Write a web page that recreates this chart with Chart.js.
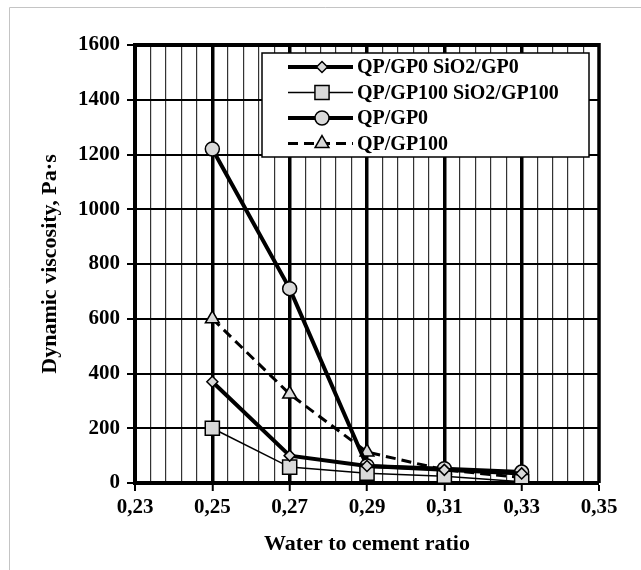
<!DOCTYPE html>
<html>
<head>
<meta charset="utf-8">
<script src="https://cdn.jsdelivr.net/npm/chart.js@4.4.1/dist/chart.umd.min.js"></script>
<style>
  html, body { margin: 0; padding: 0; background: #fff; }
  #wrap { width: 641px; height: 570px; position: relative; }
</style>
</head>
<body>
<div id="wrap"><canvas id="viscosityChart" width="641" height="570"></canvas></div>
<script>
// water to cement ratio (x) and dynamic viscosity, Pa·s (y)
const ratios = [0.25, 0.27, 0.29, 0.31, 0.33];
const sio2Gp0 = [370, 100, 62, 48, 35];
const sio2Gp100 = [200, 58, 36, 25, 5];
const qpGp0 = [1220, 710, 62, 52, 40];
const qpGp100 = [600, 325, 113, 48, 20];

const seriesNames = ['QP/GP0 SiO2/GP0', 'QP/GP100 SiO2/GP100', 'QP/GP0', 'QP/GP100'];
const xLabelTicks = [0.23, 0.25, 0.27, 0.29, 0.31, 0.33, 0.35];
const yLabelTicks = [0, 200, 400, 600, 800, 1000, 1200, 1400, 1600];

const FONT = 'Liberation Serif, Times New Roman, serif';
const MARKER_FILL = '#d9d9d9';

function isMajorX(v) {
    return xLabelTicks.some(t => Math.abs(t - v) < 1e-6);
}
function isDataX(v) {
    return ratios.some(t => Math.abs(t - v) < 1e-6);
}
function toPoints(values) {
    return ratios.map((r, i) => ({ x: r, y: values[i] }));
}

// frame: top and right edges of the plot, plus the light outer border
const framePlugin = {
    id: 'frame',
    beforeDatasetsDraw(chart) {
        const { ctx, chartArea: a } = chart;
        ctx.save();
        ctx.strokeStyle = '#000';
        ctx.lineWidth = 4;
        ctx.beginPath();
        ctx.moveTo(a.left, a.top);
        ctx.lineTo(a.right, a.top);
        ctx.stroke();
        ctx.lineWidth = 3.5;
        ctx.beginPath();
        ctx.moveTo(a.right, a.top - 2);
        ctx.lineTo(a.right, a.bottom);
        ctx.stroke();
        ctx.restore();
    },
    afterDraw(chart) {
        const ctx = chart.ctx;
        ctx.save();
        ctx.strokeStyle = '#c4c4c4';
        ctx.lineWidth = 1;
        ctx.beginPath();
        ctx.moveTo(9.5, chart.height);
        ctx.lineTo(9.5, 7.5);
        ctx.lineTo(chart.width, 7.5);
        ctx.stroke();
        ctx.restore();
    }
};

// legend box inside the plot area
const boxLegendPlugin = {
    id: 'boxLegend',
    afterDatasetsDraw(chart) {
        const { ctx, chartArea: a } = chart;
        const left = a.left + 127, top = a.top + 8;
        const right = a.right - 10, bottom = a.top + 112;
        ctx.save();
        ctx.fillStyle = '#fff';
        ctx.fillRect(left, top, right - left, bottom - top);
        ctx.strokeStyle = '#000';
        ctx.lineWidth = 1.5;
        ctx.strokeRect(left, top, right - left, bottom - top);

        chart.data.datasets.forEach((ds, i) => {
            const y = top + 14 + i * 25.5;
            const x0 = left + 26, x1 = left + 91, xm = left + 60;
            ctx.strokeStyle = ds.borderColor;
            ctx.lineWidth = ds.borderWidth;
            ctx.setLineDash(ds.borderDash || []);
            ctx.beginPath();
            ctx.moveTo(x0, y);
            ctx.lineTo(x1, y);
            ctx.stroke();
            ctx.setLineDash([]);
            ctx.fillStyle = ds.pointBackgroundColor;
            ctx.strokeStyle = ds.pointBorderColor;
            ctx.lineWidth = ds.pointBorderWidth;
            Chart.helpers.drawPoint(ctx, {
                pointStyle: ds.pointStyle,
                radius: ds.pointRadius,
                rotation: 0,
                borderWidth: ds.pointBorderWidth
            }, xm, y);
            ctx.fillStyle = '#000';
            ctx.font = 'bold 20px ' + FONT;
            ctx.textBaseline = 'middle';
            ctx.textAlign = 'left';
            ctx.fillText(ds.label, left + 95, y + 1);
        });
        ctx.restore();
    }
};

function series(label, values, style) {
    return Object.assign({
        label: label,
        data: toPoints(values),
        borderColor: '#000',
        pointBackgroundColor: MARKER_FILL,
        pointBorderColor: '#000',
        pointBorderWidth: 1.5,
        fill: false,
        tension: 0
    }, style);
}

new Chart(document.getElementById('viscosityChart'), {
    type: 'line',
    data: {
        datasets: [
            series(seriesNames[0], sio2Gp0, { borderWidth: 4, pointStyle: 'rectRot', pointRadius: 5.5 }),
            series(seriesNames[1], sio2Gp100, { borderWidth: 1.5, pointStyle: 'rect', pointRadius: 10 }),
            series(seriesNames[2], qpGp0, { borderWidth: 4, pointStyle: 'circle', pointRadius: 7 }),
            series(seriesNames[3], qpGp100, { borderWidth: 3, borderDash: [10, 6], pointStyle: 'triangle', pointRadius: 8 })
        ]
    },
    options: {
        responsive: false,
        animation: false,
        devicePixelRatio: 1,
        layout: { padding: { left: 0, top: 45, right: 42, bottom: 0 } },
        plugins: {
            legend: { display: false },
            tooltip: { enabled: false }
        },
        scales: {
            x: {
                type: 'linear',
                min: 0.23,
                max: 0.35,
                afterFit: function (scale) { scale.height = 87; },
                afterBuildTicks: function (scale) {
                    const ticks = [];
                    for (let i = 0; i <= 30; i++) {
                        ticks.push({ value: Math.round((0.23 + i * 0.004) * 1000) / 1000 });
                    }
                    scale.ticks = ticks;
                },
                ticks: {
                    autoSkip: false,
                    maxRotation: 0,
                    padding: 4,
                    color: '#000',
                    font: { family: FONT, size: 21, weight: 'bold' },
                    callback: function (value) {
                        return isMajorX(value) ? value.toFixed(2).replace('.', ',') : '';
                    }
                },
                grid: {
                    color: function (c) { return isDataX(c.tick.value) ? '#000' : '#333'; },
                    lineWidth: function (c) {
                        const v = c.tick.value;
                        if (Math.abs(v - 0.23) < 1e-6 || Math.abs(v - 0.35) < 1e-6) return 0;
                        return isDataX(v) ? 3.5 : 1.2;
                    },
                    tickLength: 8,
                    tickWidth: 2,
                    tickColor: function (c) { return isMajorX(c.tick.value) ? '#000' : 'rgba(0,0,0,0)'; }
                },
                border: { display: true, color: '#000', width: 4 },
                title: {
                    display: true,
                    text: 'Water to cement ratio',
                    color: '#000',
                    font: { family: FONT, size: 22, weight: 'bold' },
                    padding: { top: 0, bottom: 12 }
                }
            },
            y: {
                min: 0,
                max: 1600,
                afterFit: function (scale) { scale.width = 135; },
                afterBuildTicks: function (scale) {
                    scale.ticks = yLabelTicks.map(v => ({ value: v }));
                },
                ticks: {
                    padding: 7,
                    color: '#000',
                    font: { family: FONT, size: 21, weight: 'bold' },
                    callback: function (value) { return String(value); }
                },
                grid: {
                    color: '#000',
                    lineWidth: function (c) {
                        const v = c.tick.value;
                        return (v === 0 || v === 1600) ? 0 : 2;
                    },
                    tickLength: 8,
                    tickWidth: 2,
                    tickColor: '#000'
                },
                border: { display: true, color: '#000', width: 4 },
                title: {
                    display: true,
                    text: 'Dynamic viscosity, Pa·s',
                    color: '#000',
                    font: { family: FONT, size: 22, weight: 'bold' },
                    padding: { top: 37, bottom: 0 }
                }
            }
        }
    },
    plugins: [framePlugin, boxLegendPlugin]
});
</script>
</body>
</html>
